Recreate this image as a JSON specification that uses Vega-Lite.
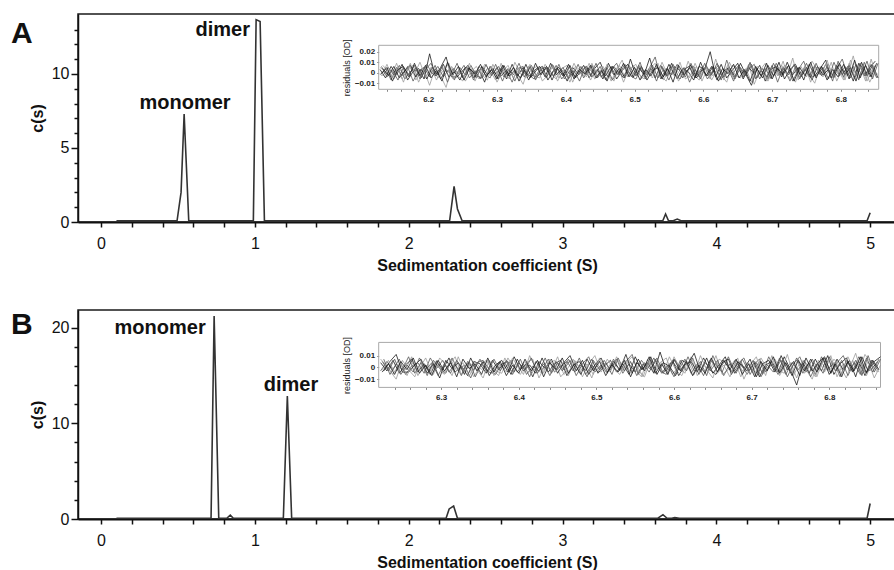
{
"$schema": "https://vega.github.io/schema/vega-lite/v6.json",
"padding": {"left": 10, "top": 13, "right": 0, "bottom": 0},
"background": "white",
"config": {
  "font": "Liberation Sans",
  "view": {"stroke": "#1a1a1a", "strokeWidth": 1.5},
  "axis": {"grid": false, "labelFont": "Liberation Sans", "titleFont": "Liberation Sans"}
},
"spacing": 35,
"datasets": {
  "mainA": [
    {"s":0.1,"c":0.08},{"s":0.494,"c":0.08},{"s":0.52,"c":2.0},{"s":0.54,"c":7.3},{"s":0.57,"c":0.08},
    {"s":0.99,"c":0.08},{"s":1.008,"c":13.67},{"s":1.034,"c":13.55},{"s":1.062,"c":0.08},
    {"s":2.266,"c":0.08},{"s":2.295,"c":2.4},{"s":2.317,"c":0.88},{"s":2.347,"c":0.08},
    {"s":3.652,"c":0.08},{"s":3.67,"c":0.54},{"s":3.689,"c":0.08},{"s":3.72,"c":0.08},{"s":3.746,"c":0.2},{"s":3.77,"c":0.08},
    {"s":4.98,"c":0.08},{"s":5.0,"c":0.63}
  ],
  "mainB": [
    {"s":0.1,"c":0.08},{"s":0.715,"c":0.08},{"s":0.735,"c":21.2},{"s":0.765,"c":0.08},
    {"s":0.817,"c":0.08},{"s":0.84,"c":0.4},{"s":0.86,"c":0.08},
    {"s":1.185,"c":0.08},{"s":1.211,"c":12.85},{"s":1.239,"c":0.08},
    {"s":2.243,"c":0.08},{"s":2.263,"c":1.05},{"s":2.292,"c":1.35},{"s":2.317,"c":0.08},
    {"s":3.62,"c":0.08},{"s":3.653,"c":0.45},{"s":3.68,"c":0.08},{"s":3.71,"c":0.08},{"s":3.73,"c":0.15},{"s":3.76,"c":0.08},
    {"s":4.98,"c":0.08},{"s":5.0,"c":1.62}
  ],
  "labA": [{"s":0.546,"c":7.66,"label":"monomer"},{"s":0.791,"c":12.59,"label":"dimer"}],
  "labB": [{"s":0.384,"c":19.33,"label":"monomer"},{"s":1.235,"c":13.36,"label":"dimer"}],
  "panA": [{"s":-0.586,"c":12.09,"label":"A"}],
  "panB": [{"s":-0.586,"c":19.34,"label":"B"}],
  "frameA": [{"x":6.128,"x2":6.855,"res":-15.8,"res2":26.1}],
  "frameB": [{"x":6.2195,"x2":6.866,"res":-17,"res2":21.2}],
  "resA": [
    {"x":6.130,"p":5,"q":-2,"r":3},{"x":6.138,"p":1,"q":4,"r":-5},{"x":6.146,"p":-4,"q":-7,"r":6},{"x":6.154,"p":9,"q":5,"r":-2},{"x":6.162,"p":-6,"q":-3,"r":8},
    {"x":6.170,"p":3,"q":6,"r":-7},{"x":6.178,"p":7,"q":-8,"r":1},{"x":6.186,"p":-9,"q":2,"r":4},{"x":6.194,"p":2,"q":5,"r":-6},{"x":6.202,"p":-12,"q":-4,"r":18},
    {"x":6.210,"p":4,"q":7,"r":-3},{"x":6.218,"p":-3,"q":-6,"r":5},{"x":6.226,"p":-14,"q":3,"r":15},{"x":6.234,"p":6,"q":-2,"r":-4},{"x":6.242,"p":-2,"q":9,"r":-4},
    {"x":6.250,"p":-8,"q":-5,"r":2},{"x":6.258,"p":5,"q":4,"r":7},{"x":6.266,"p":1,"q":-7,"r":-5},{"x":6.274,"p":-6,"q":6,"r":3},{"x":6.282,"p":8,"q":-1,"r":-9},
    {"x":6.290,"p":2,"q":-5,"r":6},{"x":6.298,"p":-7,"q":8,"r":-1},{"x":6.306,"p":9,"q":-3,"r":4},{"x":6.314,"p":-4,"q":2,"r":-6},{"x":6.322,"p":3,"q":-9,"r":8},
    {"x":6.330,"p":-2,"q":4,"r":-3},{"x":6.338,"p":-11,"q":6,"r":5},{"x":6.346,"p":6,"q":-2,"r":-7},{"x":6.354,"p":-3,"q":-6,"r":2},{"x":6.362,"p":-5,"q":3,"r":6},
    {"x":6.370,"p":8,"q":5,"r":-4},{"x":6.378,"p":-1,"q":-4,"r":9},{"x":6.386,"p":-6,"q":7,"r":-2},{"x":6.394,"p":4,"q":-6,"r":3},{"x":6.402,"p":7,"q":1,"r":-8},
    {"x":6.410,"p":-9,"q":-3,"r":5},{"x":6.418,"p":2,"q":8,"r":-1},{"x":6.426,"p":-3,"q":-5,"r":7},{"x":6.434,"p":9,"q":4,"r":-5},{"x":6.442,"p":-6,"q":-2,"r":4},
    {"x":6.450,"p":-2,"q":6,"r":10},{"x":6.458,"p":5,"q":-7,"r":-3},{"x":6.466,"p":-8,"q":3,"r":6},{"x":6.474,"p":3,"q":9,"r":-6},{"x":6.482,"p":12,"q":-4,"r":2},
    {"x":6.490,"p":-4,"q":2,"r":8},{"x":6.498,"p":7,"q":-5,"r":-4},{"x":6.506,"p":-1,"q":7,"r":5},{"x":6.514,"p":-6,"q":-3,"r":-2},{"x":6.522,"p":4,"q":5,"r":14},
    {"x":6.530,"p":9,"q":15,"r":-5},{"x":6.538,"p":-3,"q":-6,"r":7},{"x":6.546,"p":-8,"q":4,"r":-3},{"x":6.554,"p":6,"q":-2,"r":9},{"x":6.562,"p":2,"q":8,"r":-6},
    {"x":6.570,"p":-5,"q":-5,"r":4},{"x":6.578,"p":11,"q":3,"r":1},{"x":6.586,"p":-2,"q":6,"r":-7},{"x":6.594,"p":-7,"q":-4,"r":6},{"x":6.602,"p":5,"q":9,"r":3},
    {"x":6.610,"p":-6,"q":-3,"r":20},{"x":6.618,"p":13,"q":5,"r":-4},{"x":6.626,"p":-2,"q":-7,"r":8},{"x":6.634,"p":-9,"q":12,"r":-5},{"x":6.642,"p":7,"q":-2,"r":2},
    {"x":6.650,"p":4,"q":6,"r":9},{"x":6.658,"p":-3,"q":-4,"r":-6},{"x":6.666,"p":8,"q":3,"r":5},{"x":6.674,"p":-11,"q":8,"r":-1},{"x":6.682,"p":2,"q":-6,"r":7},
    {"x":6.690,"p":9,"q":4,"r":-8},{"x":6.698,"p":-6,"q":-5,"r":3},{"x":6.706,"p":1,"q":9,"r":6},{"x":6.714,"p":7,"q":-2,"r":-4},{"x":6.722,"p":-3,"q":6,"r":10},
    {"x":6.730,"p":14,"q":-8,"r":-2},{"x":6.738,"p":-7,"q":3,"r":5},{"x":6.746,"p":4,"q":11,"r":-7},{"x":6.754,"p":-2,"q":-4,"r":8},{"x":6.762,"p":-10,"q":7,"r":-3},
    {"x":6.770,"p":6,"q":-2,"r":4},{"x":6.778,"p":-4,"q":8,"r":12},{"x":6.786,"p":10,"q":-5,"r":-5},{"x":6.794,"p":-8,"q":4,"r":7},{"x":6.802,"p":3,"q":13,"r":-2},
    {"x":6.810,"p":-1,"q":-3,"r":6},{"x":6.818,"p":16,"q":6,"r":-8},{"x":6.826,"p":-6,"q":-7,"r":9},{"x":6.834,"p":5,"q":10,"r":-3},{"x":6.842,"p":-9,"q":-4,"r":5},
    {"x":6.850,"p":2,"q":7,"r":11}
  ],
  "resA2": [
    {"x":6.134,"p":7,"q":-3,"r":4},{"x":6.142,"p":1,"q":5,"r":-3},{"x":6.150,"p":-6,"q":-2,"r":6},{"x":6.158,"p":3,"q":7,"r":-5},{"x":6.166,"p":-2,"q":-6,"r":2},
    {"x":6.174,"p":9,"q":1,"r":7},{"x":6.182,"p":-7,"q":4,"r":-4},{"x":6.190,"p":2,"q":-5,"r":3},{"x":6.198,"p":-3,"q":8,"r":-6},{"x":6.206,"p":6,"q":-1,"r":5},
    {"x":6.214,"p":-5,"q":6,"r":-2},{"x":6.222,"p":2,"q":-4,"r":8},{"x":6.230,"p":9,"q":3,"r":-4},{"x":6.238,"p":-6,"q":-7,"r":1},{"x":6.246,"p":3,"q":5,"r":-7},
    {"x":6.254,"p":-8,"q":-2,"r":5},{"x":6.262,"p":1,"q":7,"r":3},{"x":6.270,"p":6,"q":-3,"r":-5},{"x":6.278,"p":-2,"q":-5,"r":6},{"x":6.286,"p":-7,"q":4,"r":-2},
    {"x":6.294,"p":8,"q":-1,"r":4},{"x":6.302,"p":-3,"q":6,"r":-6},{"x":6.310,"p":2,"q":-4,"r":7},{"x":6.318,"p":-6,"q":3,"r":-3},{"x":6.326,"p":10,"q":-8,"r":2},
    {"x":6.334,"p":-1,"q":5,"r":-5},{"x":6.342,"p":-5,"q":-2,"r":8},{"x":6.350,"p":3,"q":7,"r":-4},{"x":6.358,"p":6,"q":-4,"r":3},{"x":6.366,"p":-8,"q":1,"r":6},
    {"x":6.374,"p":-2,"q":5,"r":-7},{"x":6.382,"p":7,"q":-3,"r":2},{"x":6.390,"p":-5,"q":8,"r":5},{"x":6.398,"p":3,"q":-6,"r":-3},{"x":6.406,"p":-9,"q":2,"r":7},
    {"x":6.414,"p":6,"q":-4,"r":-5},{"x":6.422,"p":2,"q":6,"r":1},{"x":6.430,"p":-4,"q":-2,"r":6},{"x":6.438,"p":9,"q":7,"r":-4},{"x":6.446,"p":-3,"q":-5,"r":3},
    {"x":6.454,"p":6,"q":3,"r":-6},{"x":6.462,"p":-2,"q":-4,"r":9},{"x":6.470,"p":-8,"q":6,"r":-2},{"x":6.478,"p":7,"q":-1,"r":4},{"x":6.486,"p":-4,"q":8,"r":-5},
    {"x":6.494,"p":4,"q":-3,"r":13},{"x":6.502,"p":8,"q":-6,"r":-3},{"x":6.510,"p":-6,"q":5,"r":6},{"x":6.518,"p":1,"q":-2,"r":-7},{"x":6.526,"p":-5,"q":7,"r":2},
    {"x":6.534,"p":9,"q":-5,"r":5},{"x":6.542,"p":-7,"q":3,"r":-4},{"x":6.550,"p":2,"q":-7,"r":8},{"x":6.558,"p":-3,"q":6,"r":-2},{"x":6.566,"p":10,"q":2,"r":-6},
    {"x":6.574,"p":-6,"q":-4,"r":4},{"x":6.582,"p":-2,"q":9,"r":7},{"x":6.590,"p":6,"q":-3,"r":-5},{"x":6.598,"p":-8,"q":5,"r":3},{"x":6.606,"p":4,"q":-6,"r":-3},
    {"x":6.614,"p":-3,"q":2,"r":6},{"x":6.622,"p":5,"q":7,"r":-8},{"x":6.630,"p":-7,"q":-4,"r":2},{"x":6.638,"p":10,"q":3,"r":5},{"x":6.646,"p":-2,"q":-6,"r":-4},
    {"x":6.654,"p":-5,"q":5,"r":9},{"x":6.662,"p":4,"q":-3,"r":-2},{"x":6.670,"p":-9,"q":8,"r":-12},{"x":6.678,"p":6,"q":-5,"r":4},{"x":6.686,"p":1,"q":4,"r":-5},
    {"x":6.694,"p":-8,"q":-6,"r":7},{"x":6.702,"p":4,"q":9,"r":-3},{"x":6.710,"p":-3,"q":-2,"r":10},{"x":6.718,"p":7,"q":4,"r":-6},{"x":6.726,"p":1,"q":-8,"r":3},
    {"x":6.734,"p":-9,"q":6,"r":8},{"x":6.742,"p":6,"q":-3,"r":-4},{"x":6.750,"p":-4,"q":9,"r":5},{"x":6.758,"p":11,"q":-4,"r":-7},{"x":6.766,"p":3,"q":-2,"r":6},
    {"x":6.774,"p":-4,"q":5,"r":-2},{"x":6.782,"p":8,"q":-6,"r":3},{"x":6.790,"p":-5,"q":10,"r":-4},{"x":6.798,"p":2,"q":-3,"r":9},{"x":6.806,"p":-7,"q":6,"r":-2},
    {"x":6.814,"p":12,"q":-5,"r":5},{"x":6.822,"p":-3,"q":8,"r":-8},{"x":6.830,"p":6,"q":-2,"r":10},{"x":6.838,"p":-8,"q":11,"r":-3},{"x":6.846,"p":4,"q":-6,"r":7},
    {"x":6.854,"p":-2,"q":9,"r":-5}
  ],
  "resA3": [
    {"x":6.132,"p":-3,"q":6,"r":-1},{"x":6.140,"p":8,"q":-4,"r":5},{"x":6.148,"p":-5,"q":2,"r":-8},{"x":6.156,"p":4,"q":-7,"r":3},{"x":6.164,"p":-9,"q":5,"r":6},
    {"x":6.172,"p":6,"q":-2,"r":-4},{"x":6.180,"p":-1,"q":7,"r":9},{"x":6.188,"p":10,"q":-6,"r":-3},{"x":6.196,"p":-4,"q":3,"r":7},{"x":6.204,"p":5,"q":9,"r":-5},
    {"x":6.212,"p":-7,"q":-3,"r":2},{"x":6.220,"p":3,"q":6,"r":-8},{"x":6.228,"p":8,"q":-9,"r":10},{"x":6.236,"p":-6,"q":4,"r":-2},{"x":6.244,"p":2,"q":-1,"r":6},
    {"x":6.252,"p":-3,"q":7,"r":-7},{"x":6.260,"p":9,"q":-5,"r":4},{"x":6.268,"p":-8,"q":2,"r":-1},{"x":6.276,"p":4,"q":-6,"r":8},{"x":6.284,"p":-2,"q":8,"r":-4},
    {"x":6.292,"p":6,"q":-3,"r":3},{"x":6.300,"p":-9,"q":5,"r":-6},{"x":6.308,"p":1,"q":-8,"r":7},{"x":6.316,"p":7,"q":4,"r":-3},{"x":6.324,"p":-5,"q":-2,"r":5},
    {"x":6.332,"p":3,"q":9,"r":-8},{"x":6.340,"p":-1,"q":-4,"r":2},{"x":6.348,"p":8,"q":6,"r":-5},{"x":6.356,"p":-6,"q":-7,"r":9},{"x":6.364,"p":4,"q":3,"r":-2},
    {"x":6.372,"p":-3,"q":-5,"r":6},{"x":6.380,"p":7,"q":8,"r":-7},{"x":6.388,"p":-8,"q":-1,"r":4},{"x":6.396,"p":2,"q":5,"r":-3},{"x":6.404,"p":-4,"q":-6,"r":8},
    {"x":6.412,"p":9,"q":2,"r":-6},{"x":6.420,"p":-2,"q":-8,"r":3},{"x":6.428,"p":5,"q":6,"r":-1},{"x":6.436,"p":-7,"q":-3,"r":7},{"x":6.444,"p":3,"q":9,"r":-5},
    {"x":6.452,"p":-5,"q":-4,"r":2},{"x":6.460,"p":8,"q":5,"r":-8},{"x":6.468,"p":-1,"q":-7,"r":6},{"x":6.476,"p":6,"q":2,"r":-2},{"x":6.484,"p":-9,"q":-5,"r":9},
    {"x":6.492,"p":4,"q":7,"r":-4},{"x":6.500,"p":-3,"q":-2,"r":5},{"x":6.508,"p":7,"q":10,"r":-7},{"x":6.516,"p":-6,"q":-6,"r":3},{"x":6.524,"p":2,"q":4,"r":-3},
    {"x":6.532,"p":-4,"q":-8,"r":8},{"x":6.540,"p":10,"q":6,"r":-6},{"x":6.548,"p":-2,"q":-3,"r":4},{"x":6.556,"p":5,"q":8,"r":-9},{"x":6.564,"p":-8,"q":-4,"r":7},
    {"x":6.572,"p":3,"q":5,"r":-2},{"x":6.580,"p":-5,"q":-9,"r":5},{"x":6.588,"p":9,"q":3,"r":-5},{"x":6.596,"p":-3,"q":-6,"r":10},{"x":6.604,"p":6,"q":7,"r":-3},
    {"x":6.612,"p":-7,"q":-2,"r":6},{"x":6.620,"p":2,"q":9,"r":-7},{"x":6.628,"p":-4,"q":-5,"r":4},{"x":6.636,"p":8,"q":4,"r":-1},{"x":6.644,"p":-6,"q":-8,"r":8},
    {"x":6.652,"p":4,"q":6,"r":-5},{"x":6.660,"p":-2,"q":-3,"r":3},{"x":6.668,"p":9,"q":10,"r":-8},{"x":6.676,"p":-5,"q":-6,"r":6},{"x":6.684,"p":3,"q":2,"r":-3},
    {"x":6.692,"p":-8,"q":-4,"r":9},{"x":6.700,"p":6,"q":7,"r":-6},{"x":6.708,"p":-3,"q":-9,"r":4},{"x":6.716,"p":11,"q":5,"r":-2},{"x":6.724,"p":-6,"q":-2,"r":7},
    {"x":6.732,"p":2,"q":8,"r":-8},{"x":6.740,"p":-4,"q":-6,"r":5},{"x":6.748,"p":7,"q":3,"r":-3},{"x":6.756,"p":-9,"q":-5,"r":10},{"x":6.764,"p":5,"q":9,"r":-5},
    {"x":6.772,"p":-2,"q":-3,"r":6},{"x":6.780,"p":12,"q":6,"r":-7},{"x":6.788,"p":-5,"q":-8,"r":3},{"x":6.796,"p":3,"q":11,"r":-4},{"x":6.804,"p":-7,"q":-4,"r":8},
    {"x":6.812,"p":9,"q":7,"r":-6},{"x":6.820,"p":-3,"q":-6,"r":12},{"x":6.828,"p":6,"q":9,"r":-5},{"x":6.836,"p":-8,"q":-3,"r":7},{"x":6.844,"p":13,"q":8,"r":-4},
    {"x":6.852,"p":-4,"q":-5,"r":9}
  ],
  "resB": [
    {"x":6.222,"p":7,"q":-3,"r":4},{"x":6.230,"p":1,"q":5,"r":-3},{"x":6.238,"p":-6,"q":-2,"r":6},{"x":6.246,"p":3,"q":7,"r":-5},{"x":6.254,"p":-2,"q":-6,"r":2},
    {"x":6.262,"p":9,"q":1,"r":7},{"x":6.270,"p":-7,"q":4,"r":-4},{"x":6.278,"p":2,"q":-5,"r":3},{"x":6.286,"p":-3,"q":8,"r":-6},{"x":6.294,"p":6,"q":-1,"r":5},
    {"x":6.302,"p":-5,"q":6,"r":-2},{"x":6.310,"p":2,"q":-4,"r":8},{"x":6.318,"p":9,"q":3,"r":-4},{"x":6.326,"p":-6,"q":-7,"r":1},{"x":6.334,"p":3,"q":5,"r":-7},
    {"x":6.342,"p":-8,"q":-2,"r":5},{"x":6.350,"p":1,"q":7,"r":3},{"x":6.358,"p":6,"q":-3,"r":-5},{"x":6.366,"p":-2,"q":-5,"r":6},{"x":6.374,"p":-7,"q":4,"r":-2},
    {"x":6.382,"p":8,"q":-1,"r":4},{"x":6.390,"p":-3,"q":6,"r":-6},{"x":6.398,"p":2,"q":-4,"r":7},{"x":6.406,"p":-6,"q":3,"r":-3},{"x":6.414,"p":10,"q":-8,"r":2},
    {"x":6.422,"p":-1,"q":5,"r":-5},{"x":6.430,"p":-5,"q":-2,"r":8},{"x":6.438,"p":3,"q":7,"r":-4},{"x":6.446,"p":6,"q":-4,"r":3},{"x":6.454,"p":-8,"q":1,"r":6},
    {"x":6.462,"p":-2,"q":5,"r":-7},{"x":6.470,"p":7,"q":-3,"r":2},{"x":6.478,"p":-5,"q":8,"r":5},{"x":6.486,"p":3,"q":-6,"r":-3},{"x":6.494,"p":-9,"q":2,"r":7},
    {"x":6.502,"p":6,"q":-4,"r":-5},{"x":6.510,"p":2,"q":6,"r":1},{"x":6.518,"p":-4,"q":-2,"r":6},{"x":6.526,"p":9,"q":7,"r":-4},{"x":6.534,"p":-3,"q":-5,"r":3},
    {"x":6.542,"p":6,"q":3,"r":-6},{"x":6.550,"p":-2,"q":-4,"r":9},{"x":6.558,"p":-8,"q":6,"r":-2},{"x":6.566,"p":7,"q":-1,"r":4},{"x":6.574,"p":-4,"q":8,"r":-5},
    {"x":6.582,"p":4,"q":-3,"r":13},{"x":6.590,"p":8,"q":-6,"r":-3},{"x":6.598,"p":-6,"q":5,"r":6},{"x":6.606,"p":1,"q":-2,"r":-7},{"x":6.614,"p":-5,"q":7,"r":2},
    {"x":6.622,"p":9,"q":-5,"r":5},{"x":6.630,"p":-7,"q":3,"r":-4},{"x":6.638,"p":2,"q":-7,"r":8},{"x":6.646,"p":-3,"q":6,"r":-2},{"x":6.654,"p":10,"q":2,"r":-6},
    {"x":6.662,"p":-6,"q":-4,"r":4},{"x":6.670,"p":-2,"q":9,"r":7},{"x":6.678,"p":6,"q":-3,"r":-5},{"x":6.686,"p":-8,"q":5,"r":3},{"x":6.694,"p":4,"q":-6,"r":-3},
    {"x":6.702,"p":-3,"q":2,"r":6},{"x":6.710,"p":5,"q":7,"r":-8},{"x":6.718,"p":-7,"q":-4,"r":2},{"x":6.726,"p":10,"q":3,"r":5},{"x":6.734,"p":-2,"q":-6,"r":-4},
    {"x":6.742,"p":-5,"q":5,"r":9},{"x":6.750,"p":4,"q":-3,"r":-2},{"x":6.758,"p":-9,"q":8,"r":-15},{"x":6.766,"p":6,"q":-5,"r":4},{"x":6.774,"p":1,"q":4,"r":-5},
    {"x":6.782,"p":-8,"q":-6,"r":7},{"x":6.790,"p":4,"q":9,"r":-3},{"x":6.798,"p":-3,"q":-2,"r":10},{"x":6.806,"p":7,"q":4,"r":-6},{"x":6.814,"p":1,"q":-8,"r":3},
    {"x":6.822,"p":-9,"q":6,"r":8},{"x":6.830,"p":6,"q":-3,"r":-4},{"x":6.838,"p":-4,"q":9,"r":5},{"x":6.846,"p":11,"q":-4,"r":-7},{"x":6.854,"p":3,"q":-2,"r":6},
    {"x":6.862,"p":-4,"q":5,"r":-2}
  ],
  "resB2": [
    {"x":6.226,"p":4,"q":7,"r":-3},{"x":6.234,"p":-3,"q":-6,"r":5},{"x":6.242,"p":-10,"q":3,"r":11},{"x":6.250,"p":6,"q":-2,"r":-4},{"x":6.258,"p":-2,"q":9,"r":-4},
    {"x":6.266,"p":-8,"q":-5,"r":2},{"x":6.274,"p":5,"q":4,"r":7},{"x":6.282,"p":1,"q":-7,"r":-5},{"x":6.290,"p":-6,"q":6,"r":3},{"x":6.298,"p":8,"q":-1,"r":-9},
    {"x":6.306,"p":2,"q":-5,"r":6},{"x":6.314,"p":-7,"q":8,"r":-1},{"x":6.322,"p":9,"q":-3,"r":4},{"x":6.330,"p":-4,"q":2,"r":-6},{"x":6.338,"p":3,"q":-9,"r":8},
    {"x":6.346,"p":-2,"q":4,"r":-3},{"x":6.354,"p":-9,"q":6,"r":5},{"x":6.362,"p":6,"q":-2,"r":-7},{"x":6.370,"p":-3,"q":-6,"r":2},{"x":6.378,"p":-5,"q":3,"r":6},
    {"x":6.386,"p":8,"q":5,"r":-4},{"x":6.394,"p":-1,"q":-4,"r":9},{"x":6.402,"p":-6,"q":7,"r":-2},{"x":6.410,"p":4,"q":-6,"r":3},{"x":6.418,"p":7,"q":1,"r":-8},
    {"x":6.426,"p":-9,"q":-3,"r":5},{"x":6.434,"p":2,"q":8,"r":-1},{"x":6.442,"p":-3,"q":-5,"r":7},{"x":6.450,"p":9,"q":4,"r":-5},{"x":6.458,"p":-6,"q":-2,"r":4},
    {"x":6.466,"p":-2,"q":6,"r":10},{"x":6.474,"p":5,"q":-7,"r":-3},{"x":6.482,"p":-8,"q":3,"r":6},{"x":6.490,"p":3,"q":9,"r":-6},{"x":6.498,"p":10,"q":-4,"r":2},
    {"x":6.506,"p":-4,"q":2,"r":8},{"x":6.514,"p":7,"q":-5,"r":-4},{"x":6.522,"p":-1,"q":7,"r":5},{"x":6.530,"p":-6,"q":-3,"r":-2},{"x":6.538,"p":4,"q":5,"r":11},
    {"x":6.546,"p":9,"q":11,"r":-5},{"x":6.554,"p":-3,"q":-6,"r":7},{"x":6.562,"p":-8,"q":4,"r":-3},{"x":6.570,"p":6,"q":-2,"r":9},{"x":6.578,"p":2,"q":8,"r":-6},
    {"x":6.586,"p":-5,"q":-5,"r":4},{"x":6.594,"p":9,"q":3,"r":1},{"x":6.602,"p":-2,"q":6,"r":-7},{"x":6.610,"p":-7,"q":-4,"r":6},{"x":6.618,"p":5,"q":9,"r":3},
    {"x":6.626,"p":-6,"q":-3,"r":12},{"x":6.634,"p":10,"q":5,"r":-4},{"x":6.642,"p":-2,"q":-7,"r":8},{"x":6.650,"p":-9,"q":10,"r":-5},{"x":6.658,"p":7,"q":-2,"r":2},
    {"x":6.666,"p":4,"q":6,"r":9},{"x":6.674,"p":-3,"q":-4,"r":-6},{"x":6.682,"p":8,"q":3,"r":5},{"x":6.690,"p":-10,"q":8,"r":-1},{"x":6.698,"p":2,"q":-6,"r":7},
    {"x":6.706,"p":9,"q":4,"r":-8},{"x":6.714,"p":-6,"q":-5,"r":3},{"x":6.722,"p":1,"q":9,"r":6},{"x":6.730,"p":7,"q":-2,"r":-4},{"x":6.738,"p":-3,"q":6,"r":10},
    {"x":6.746,"p":11,"q":-8,"r":-2},{"x":6.754,"p":-7,"q":3,"r":5},{"x":6.762,"p":4,"q":9,"r":-7},{"x":6.770,"p":-2,"q":-4,"r":8},{"x":6.778,"p":-10,"q":7,"r":-3},
    {"x":6.786,"p":6,"q":-2,"r":4},{"x":6.794,"p":-4,"q":8,"r":9},{"x":6.802,"p":10,"q":-5,"r":-5},{"x":6.810,"p":-8,"q":4,"r":7},{"x":6.818,"p":3,"q":10,"r":-2},
    {"x":6.826,"p":-1,"q":-3,"r":6},{"x":6.834,"p":12,"q":6,"r":-8},{"x":6.842,"p":-6,"q":-7,"r":9},{"x":6.850,"p":5,"q":10,"r":-3},{"x":6.858,"p":-9,"q":-4,"r":5},
    {"x":6.866,"p":2,"q":7,"r":9}
  ],
  "resB3": [
    {"x":6.224,"p":-2,"q":5,"r":-4},{"x":6.232,"p":6,"q":-3,"r":3},{"x":6.240,"p":-4,"q":7,"r":-6},{"x":6.248,"p":3,"q":-6,"r":5},{"x":6.256,"p":-7,"q":2,"r":-2},
    {"x":6.264,"p":5,"q":-4,"r":8},{"x":6.272,"p":-1,"q":8,"r":-5},{"x":6.280,"p":8,"q":-2,"r":2},{"x":6.288,"p":-5,"q":4,"r":-7},{"x":6.296,"p":2,"q":-7,"r":6},
    {"x":6.304,"p":-6,"q":3,"r":-3},{"x":6.312,"p":7,"q":-5,"r":4},{"x":6.320,"p":-3,"q":6,"r":-8},{"x":6.328,"p":4,"q":-2,"r":7},{"x":6.336,"p":-8,"q":5,"r":-1},
    {"x":6.344,"p":5,"q":-8,"r":3},{"x":6.352,"p":-2,"q":3,"r":-6},{"x":6.360,"p":6,"q":-4,"r":8},{"x":6.368,"p":-7,"q":7,"r":-4},{"x":6.376,"p":3,"q":-3,"r":5},
    {"x":6.384,"p":-4,"q":6,"r":-7},{"x":6.392,"p":8,"q":-6,"r":2},{"x":6.400,"p":-1,"q":4,"r":-5},{"x":6.408,"p":5,"q":-2,"r":7},{"x":6.416,"p":-6,"q":8,"r":-3},
    {"x":6.424,"p":2,"q":-5,"r":6},{"x":6.432,"p":-5,"q":3,"r":-8},{"x":6.440,"p":7,"q":-7,"r":4},{"x":6.448,"p":-3,"q":5,"r":-2},{"x":6.456,"p":4,"q":-3,"r":8},
    {"x":6.464,"p":-7,"q":7,"r":-5},{"x":6.472,"p":6,"q":-4,"r":3},{"x":6.480,"p":-2,"q":2,"r":-6},{"x":6.488,"p":3,"q":-8,"r":7},{"x":6.496,"p":-6,"q":6,"r":-3},
    {"x":6.504,"p":8,"q":-2,"r":5},{"x":6.512,"p":-4,"q":4,"r":-7},{"x":6.520,"p":5,"q":-6,"r":2},{"x":6.528,"p":-1,"q":8,"r":-4},{"x":6.536,"p":7,"q":-3,"r":6},
    {"x":6.544,"p":-5,"q":5,"r":-8},{"x":6.552,"p":2,"q":-7,"r":4},{"x":6.560,"p":-8,"q":3,"r":-2},{"x":6.568,"p":6,"q":-4,"r":9},{"x":6.576,"p":-3,"q":7,"r":-5},
    {"x":6.584,"p":4,"q":-5,"r":3},{"x":6.592,"p":-6,"q":2,"r":-6},{"x":6.600,"p":9,"q":-8,"r":7},{"x":6.608,"p":-2,"q":6,"r":-3},{"x":6.616,"p":5,"q":-3,"r":5},
    {"x":6.624,"p":-7,"q":8,"r":-7},{"x":6.632,"p":3,"q":-6,"r":2},{"x":6.640,"p":-4,"q":4,"r":-5},{"x":6.648,"p":7,"q":-2,"r":8},{"x":6.656,"p":-5,"q":6,"r":-4},
    {"x":6.664,"p":2,"q":-7,"r":6},{"x":6.672,"p":-8,"q":3,"r":-2},{"x":6.680,"p":6,"q":-5,"r":7},{"x":6.688,"p":-3,"q":7,"r":-6},{"x":6.696,"p":4,"q":-3,"r":3},
    {"x":6.704,"p":-6,"q":5,"r":-8},{"x":6.712,"p":8,"q":-8,"r":5},{"x":6.720,"p":-1,"q":2,"r":-3},{"x":6.728,"p":5,"q":-4,"r":9},{"x":6.736,"p":-7,"q":8,"r":-5},
    {"x":6.744,"p":3,"q":-6,"r":4},{"x":6.752,"p":-4,"q":4,"r":-7},{"x":6.760,"p":7,"q":-2,"r":6},{"x":6.768,"p":-5,"q":6,"r":-3},{"x":6.776,"p":2,"q":-8,"r":7},
    {"x":6.784,"p":-8,"q":3,"r":-4},{"x":6.792,"p":6,"q":-5,"r":8},{"x":6.800,"p":-3,"q":9,"r":-6},{"x":6.808,"p":5,"q":-3,"r":3},{"x":6.816,"p":-6,"q":6,"r":-8},
    {"x":6.824,"p":9,"q":-7,"r":5},{"x":6.832,"p":-2,"q":4,"r":-3},{"x":6.840,"p":4,"q":-6,"r":9},{"x":6.848,"p":-7,"q":8,"r":-5},{"x":6.856,"p":6,"q":-4,"r":6},
    {"x":6.864,"p":-4,"q":7,"r":-2}
  ]
},
"vconcat": [
  {
    "width": 818,
    "height": 208,
    "resolve": {"scale": {"x": "independent", "y": "independent"}, "axis": {"x": "independent", "y": "independent"}},
    "layer": [
      {
        "encoding": {
          "x": {"field": "s", "type": "quantitative",
            "scale": {"domain": [-0.15, 5.168], "nice": false, "zero": false},
            "axis": {"orient": "bottom", "title": "Sedimentation coefficient (S)",
              "values": [0,0.2,0.4,0.6,0.8,1,1.2,1.4,1.6,1.8,2,2.2,2.4,2.6,2.8,3,3.2,3.4,3.6,3.8,4,4.2,4.4,4.6,4.8,5],
              "labelExpr": "datum.value % 1 === 0 ? format(datum.value, 'd') : ''",
              "labelOverlap": false, "labelFlush": false,
              "tickSize": 5, "tickWidth": 1.5, "tickColor": "#111", "domainColor": "#111", "domainWidth": 2,
              "labelFontSize": 16, "labelColor": "#111", "labelPadding": 8,
              "titleFontSize": 16, "titleFontWeight": "bold", "titleColor": "#111", "titlePadding": 6}},
          "y": {"field": "c", "type": "quantitative",
            "scale": {"domain": [0, 14.05], "nice": false},
            "axis": {"orient": "left", "title": "c(s)",
              "values": [0,1,2,3,4,5,6,7,8,9,10,11,12,13],
              "labelExpr": "datum.value % 5 === 0 ? datum.label : ''",
              "labelOverlap": false, "labelFlush": false,
              "tickSize": {"condition": {"test": "datum.value % 5 === 0", "value": 7}, "value": 4},
              "tickWidth": 1.5, "tickColor": "#111", "domainColor": "#111", "domainWidth": 1.5,
              "labelFontSize": 16, "labelColor": "#111", "labelPadding": 2,
              "titleFontSize": 16, "titleFontWeight": "bold", "titleColor": "#111", "titlePadding": 6}}
        },
        "layer": [
          {"data": {"name": "mainA"}, "mark": {"type": "line", "color": "#333", "strokeWidth": 1.6}},
          {"data": {"name": "labA"}, "mark": {"type": "text", "fontSize": 20, "fontWeight": "bold", "font": "Liberation Sans", "baseline": "alphabetic", "align": "center", "color": "#111"},
            "encoding": {"text": {"field": "label", "type": "nominal"}}},
          {"data": {"name": "panA"}, "mark": {"type": "text", "fontSize": 30, "fontWeight": "bold", "font": "Liberation Sans", "baseline": "alphabetic", "align": "left", "color": "#111"},
            "encoding": {"text": {"field": "label", "type": "nominal"}}}
        ]
      },
      {
        "encoding": {
          "x": {"field": "x", "type": "quantitative",
            "scale": {"domain": [6.128, 6.855], "range": [300.7, 800.7], "nice": false, "zero": false},
            "axis": {"orient": "bottom", "offset": -132.7, "title": null, "domain": false,
              "values": [6.14,6.16,6.18,6.2,6.22,6.24,6.26,6.28,6.3,6.32,6.34,6.36,6.38,6.4,6.42,6.44,6.46,6.48,6.5,6.52,6.54,6.56,6.58,6.6,6.62,6.64,6.66,6.68,6.7,6.72,6.74,6.76,6.78,6.8,6.82,6.84],
              "labelExpr": "abs(datum.value*10 - round(datum.value*10)) < 0.001 ? format(datum.value, '.1f') : ''",
              "labelOverlap": false, "labelFlush": false,
              "tickSize": 2, "tickColor": "#888", "labelFontSize": 8, "labelFontWeight": "bold", "labelColor": "#222", "labelPadding": 4}},
          "y": {"field": "res", "type": "quantitative",
            "scale": {"domain": [-15.8, 26.1], "range": [75.3, 31.3], "nice": false, "zero": false},
            "axis": {"orient": "left", "offset": -300.7, "title": "residuals [OD]", "domain": false,
              "values": [-10, 0, 10, 20],
              "labelExpr": "datum.value === 0 ? '0' : format(datum.value/1000, '.2f')",
              "labelOverlap": false, "labelFlush": false,
              "tickSize": 2, "tickColor": "#888", "labelFontSize": 8, "labelFontWeight": "bold", "labelColor": "#222", "labelPadding": 2,
              "titleFontSize": 9, "titleFontWeight": "normal", "titleColor": "#222", "titlePadding": 3}}
        },
        "layer": [
          {"data": {"name": "frameA"}, "mark": {"type": "rect", "fill": null, "stroke": "#a8a8a8", "strokeWidth": 1},
            "encoding": {"x2": {"field": "x2"}, "y2": {"field": "res2"}}},
          {"data": {"name": "resA"}, "transform": [{"fold": ["p", "q", "r"], "as": ["trace", "res"]}],
            "mark": {"type": "line", "strokeWidth": 0.8},
            "encoding": {"color": {"field": "trace", "type": "nominal", "scale": {"domain": ["p", "q", "r"], "range": ["#9a9a9a", "#555555", "#1a1a1a"]}, "legend": null}}},
          {"data": {"name": "resA2"}, "transform": [{"fold": ["p", "q", "r"], "as": ["trace", "res"]}],
            "mark": {"type": "line", "strokeWidth": 0.8},
            "encoding": {"color": {"field": "trace", "type": "nominal", "legend": null}}},
          {"data": {"name": "resA3"}, "transform": [{"fold": ["p", "q", "r"], "as": ["trace", "res"]}],
            "mark": {"type": "line", "strokeWidth": 0.8},
            "encoding": {"color": {"field": "trace", "type": "nominal", "legend": null}}}
        ]
      }
    ]
  },
  {
    "width": 818,
    "height": 209,
    "resolve": {"scale": {"x": "independent", "y": "independent"}, "axis": {"x": "independent", "y": "independent"}},
    "layer": [
      {
        "encoding": {
          "x": {"field": "s", "type": "quantitative",
            "scale": {"domain": [-0.15, 5.168], "nice": false, "zero": false},
            "axis": {"orient": "bottom", "title": "Sedimentation coefficient (S)",
              "values": [0,0.2,0.4,0.6,0.8,1,1.2,1.4,1.6,1.8,2,2.2,2.4,2.6,2.8,3,3.2,3.4,3.6,3.8,4,4.2,4.4,4.6,4.8,5],
              "labelExpr": "datum.value % 1 === 0 ? format(datum.value, 'd') : ''",
              "labelOverlap": false, "labelFlush": false,
              "tickSize": 5, "tickWidth": 1.5, "tickColor": "#111", "domainColor": "#111", "domainWidth": 2,
              "labelFontSize": 16, "labelColor": "#111", "labelPadding": 8,
              "titleFontSize": 16, "titleFontWeight": "bold", "titleColor": "#111", "titlePadding": 6}},
          "y": {"field": "c", "type": "quantitative",
            "scale": {"domain": [0, 21.84], "nice": false},
            "axis": {"orient": "left", "title": "c(s)",
              "values": [0,2,4,6,8,10,12,14,16,18,20],
              "labelExpr": "datum.value % 10 === 0 ? datum.label : ''",
              "labelOverlap": false, "labelFlush": false,
              "tickSize": {"condition": {"test": "datum.value % 10 === 0", "value": 7}, "value": 4},
              "tickWidth": 1.5, "tickColor": "#111", "domainColor": "#111", "domainWidth": 1.5,
              "labelFontSize": 16, "labelColor": "#111", "labelPadding": 2,
              "titleFontSize": 16, "titleFontWeight": "bold", "titleColor": "#111", "titlePadding": 6}}
        },
        "layer": [
          {"data": {"name": "mainB"}, "mark": {"type": "line", "color": "#333", "strokeWidth": 1.6}},
          {"data": {"name": "labB"}, "mark": {"type": "text", "fontSize": 20, "fontWeight": "bold", "font": "Liberation Sans", "baseline": "alphabetic", "align": "center", "color": "#111"},
            "encoding": {"text": {"field": "label", "type": "nominal"}}},
          {"data": {"name": "panB"}, "mark": {"type": "text", "fontSize": 30, "fontWeight": "bold", "font": "Liberation Sans", "baseline": "alphabetic", "align": "left", "color": "#111"},
            "encoding": {"text": {"field": "label", "type": "nominal"}}}
        ]
      },
      {
        "encoding": {
          "x": {"field": "x", "type": "quantitative",
            "scale": {"domain": [6.2195, 6.866], "range": [300.7, 802.5], "nice": false, "zero": false},
            "axis": {"orient": "bottom", "offset": -131.6, "title": null, "domain": false,
              "values": [6.24,6.26,6.28,6.3,6.32,6.34,6.36,6.38,6.4,6.42,6.44,6.46,6.48,6.5,6.52,6.54,6.56,6.58,6.6,6.62,6.64,6.66,6.68,6.7,6.72,6.74,6.76,6.78,6.8,6.82,6.84,6.86],
              "labelExpr": "abs(datum.value*10 - round(datum.value*10)) < 0.001 ? format(datum.value, '.1f') : ''",
              "labelOverlap": false, "labelFlush": false,
              "tickSize": 2, "tickColor": "#888", "labelFontSize": 8, "labelFontWeight": "bold", "labelColor": "#222", "labelPadding": 4}},
          "y": {"field": "res", "type": "quantitative",
            "scale": {"domain": [-17, 21.2], "range": [77.4, 32.4], "nice": false, "zero": false},
            "axis": {"orient": "left", "offset": -300.7, "title": "residuals [OD]", "domain": false,
              "values": [-10, 0, 10],
              "labelExpr": "datum.value === 0 ? '0' : format(datum.value/1000, '.2f')",
              "labelOverlap": false, "labelFlush": false,
              "tickSize": 2, "tickColor": "#888", "labelFontSize": 8, "labelFontWeight": "bold", "labelColor": "#222", "labelPadding": 2,
              "titleFontSize": 9, "titleFontWeight": "normal", "titleColor": "#222", "titlePadding": 3}}
        },
        "layer": [
          {"data": {"name": "frameB"}, "mark": {"type": "rect", "fill": null, "stroke": "#a8a8a8", "strokeWidth": 1},
            "encoding": {"x2": {"field": "x2"}, "y2": {"field": "res2"}}},
          {"data": {"name": "resB"}, "transform": [{"fold": ["p", "q", "r"], "as": ["trace", "res"]}],
            "mark": {"type": "line", "strokeWidth": 0.8},
            "encoding": {"color": {"field": "trace", "type": "nominal", "scale": {"domain": ["p", "q", "r"], "range": ["#9a9a9a", "#555555", "#1a1a1a"]}, "legend": null}}},
          {"data": {"name": "resB2"}, "transform": [{"fold": ["p", "q", "r"], "as": ["trace", "res"]}],
            "mark": {"type": "line", "strokeWidth": 0.8},
            "encoding": {"color": {"field": "trace", "type": "nominal", "legend": null}}},
          {"data": {"name": "resB3"}, "transform": [{"fold": ["p", "q", "r"], "as": ["trace", "res"]}],
            "mark": {"type": "line", "strokeWidth": 0.8},
            "encoding": {"color": {"field": "trace", "type": "nominal", "legend": null}}}
        ]
      }
    ]
  }
]
}
